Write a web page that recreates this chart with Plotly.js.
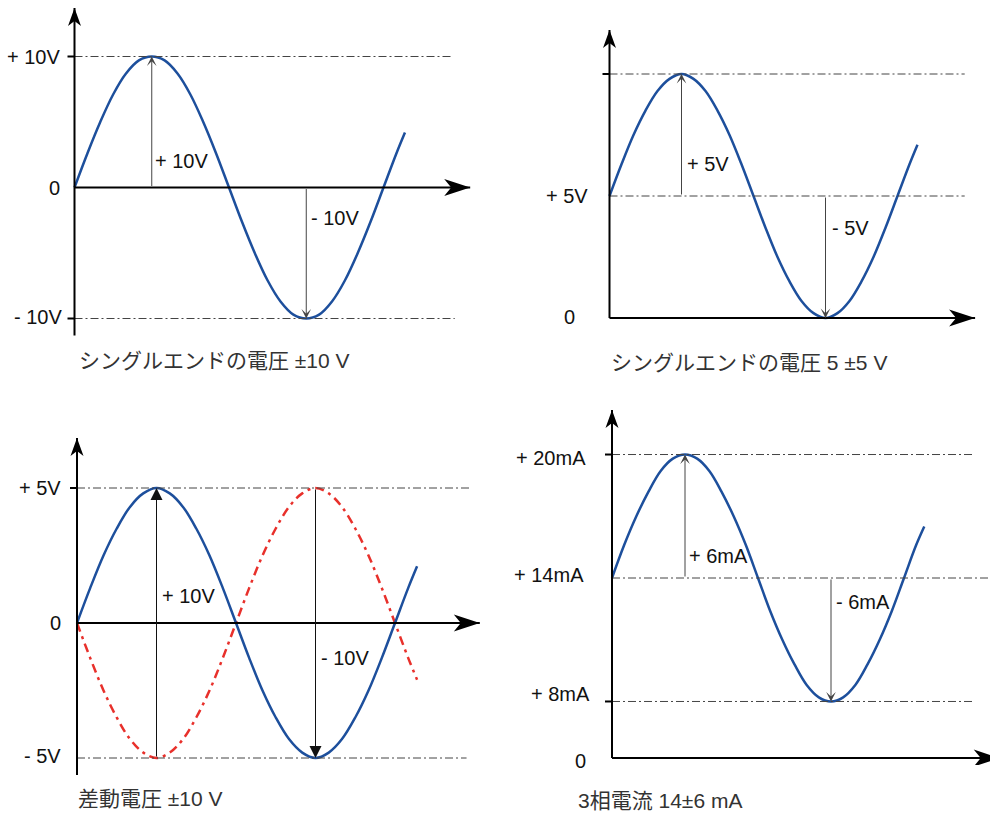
<!DOCTYPE html>
<html>
<head>
<meta charset="utf-8">
<script src="https://cdn.plot.ly/plotly-3.0.1.min.js"></script>
<style>
body { margin: 0; background: #fff; }
#chart { width: 990px; height: 815px; }
</style>
</head>
<body>
<div id="chart"></div>
<script>
// phase in degrees
var phase = [0, 15, 30, 45, 60, 75, 90, 105, 120, 135, 150, 165, 180, 195, 210, 225, 240, 255, 270,
	285, 300, 315, 330, 345, 360, 375, 385];
var singleVolts = [0, 2.6, 5, 7.1, 8.7, 9.7, 10, 9.7, 8.7, 7.1, 5, 2.6, 0, -2.6, -5, -7.1, -8.7, -9.7, -10,
	-9.7, -8.7, -7.1, -5, -2.6, 0, 2.6, 4.2];
var offsetVolts = [5, 6.3, 7.5, 8.5, 9.3, 9.8, 10, 9.8, 9.3, 8.5, 7.5, 6.3, 5, 3.7, 2.5, 1.5, 0.7, 0.2, 0,
	0.2, 0.7, 1.5, 2.5, 3.7, 5, 6.3, 7.1];
var diffPlus = [0, 1.3, 2.5, 3.5, 4.3, 4.8, 5, 4.8, 4.3, 3.5, 2.5, 1.3, 0, -1.3, -2.5, -3.5, -4.3, -4.8, -5,
	-4.8, -4.3, -3.5, -2.5, -1.3, 0, 1.3, 2.1];
var diffMinus = [0, -1.3, -2.5, -3.5, -4.3, -4.8, -5, -4.8, -4.3, -3.5, -2.5, -1.3, 0, 1.3, 2.5, 3.5, 4.3, 4.8, 5,
	4.8, 4.3, 3.5, 2.5, 1.3, 0, -1.3, -2.1];
var loopMa = [14, 15.6, 17, 18.2, 19.2, 19.8, 20, 19.8, 19.2, 18.2, 17, 15.6, 14, 12.4, 11, 9.8, 8.8, 8.2, 8,
	8.2, 8.8, 9.8, 11, 12.4, 14, 15.6, 16.5];

// dash-dot reference levels and their labels
var p1Levels = [10, -10];
var p1LevelText = ['+ 10V', '- 10V'];
var p2Levels = [10, 5];
var p2LevelText = ['', '+ 5V'];
var p3Levels = [5, -5];
var p3LevelText = ['+ 5V', '- 5V'];
var p4Levels = [20, 14, 8];
var p4LevelText = ['+ 20mA', '+ 14mA', '+ 8mA'];

// swing arrows: [from, to] at the peak (90) and the trough (270)
var p1Swing = [[0, 10], [0, -10]];
var p1SwingText = ['+ 10V', '- 10V'];
var p2Swing = [[5, 10], [5, 0]];
var p2SwingText = ['+ 5V', '- 5V'];
var p3Swing = [[-5, 5], [5, -5]];
var p3SwingText = ['+ 10V', '- 10V'];
var p4Swing = [[14, 20], [14, 8]];
var p4SwingText = ['+ 6mA', '- 6mA'];
var swingAt = [90, 270];

var captions = ['シングルエンドの電圧 ±10 V', 'シングルエンドの電圧 5 ±5 V', '差動電圧 ±10 V', '3相電流 14±6 mA'];

var W = 990, H = 815;
var blue = '#1d4f9c', red = '#e8302b', refGray = '#444';
var labelFont = {family: 'Liberation Sans, Arial, sans-serif', size: 20, color: '#111'};
var capFont = {family: 'Liberation Sans, Noto Sans CJK JP, sans-serif', size: 21, color: '#333'};

var data = [], shapes = [], notes = [];
var layout = {
	width: W, height: H,
	margin: {l: 0, r: 0, t: 0, b: 0},
	showlegend: false, hovermode: false,
	paper_bgcolor: '#fff', plot_bgcolor: 'rgba(0,0,0,0)',
	shapes: shapes, annotations: notes
};

// box = [left, right, top, bottom] px, x0/y0 = pixel of phase 0 / value 0, kx/ky = px per unit
function panel(i, box, x0, kx, y0, ky) {
	var n = i === 0 ? '' : String(i + 1);
	layout['xaxis' + n] = {domain: [box[0] / W, box[1] / W], range: [(box[0] - x0) / kx, (box[1] - x0) / kx],
		visible: false, fixedrange: true, anchor: 'y' + n};
	layout['yaxis' + n] = {domain: [1 - box[3] / H, 1 - box[2] / H], range: [(y0 - box[3]) / ky, (y0 - box[2]) / ky],
		visible: false, fixedrange: true, anchor: 'x' + n};
	return {x: 'x' + n, y: 'y' + n};
}

function curve(r, ys, color, dash) {
	data.push({x: phase, y: ys, xaxis: r.x, yaxis: r.y, type: 'scatter', mode: 'lines',
		line: {color: color, width: 2.5, shape: 'spline', dash: dash || 'solid'}});
}

function refLine(r, level, x1, tick) {
	shapes.push({type: 'line', xref: r.x, yref: r.y, x0: 0, x1: x1, y0: level, y1: level,
		line: {color: refGray, width: 1, dash: '8px,3px,2px,3px'}});
	if (tick) shapes.push({type: 'line', xref: r.x, yref: r.y, xsizemode: 'pixel', xanchor: 0, x0: -7, x1: 0,
		y0: level, y1: level, line: {color: '#000', width: 2}});
}

function axes(r, base, xTip, yBot, yTop) {
	var k = {xref: r.x, yref: r.y};
	shapes.push(Object.assign({type: 'line', x0: 0, x1: xTip, y0: base, y1: base, line: {color: '#000', width: 2}}, k));
	shapes.push(Object.assign({type: 'line', x0: 0, x1: 0, y0: yBot, y1: yTop, line: {color: '#000', width: 2}}, k));
	shapes.push(Object.assign({type: 'path', xsizemode: 'pixel', ysizemode: 'pixel', xanchor: xTip, yanchor: base,
		path: 'M0,0L-26,8.5L-19,0L-26,-8.5Z', fillcolor: '#000', line: {width: 0}}, k));
	shapes.push(Object.assign({type: 'path', xsizemode: 'pixel', ysizemode: 'pixel', xanchor: 0, yanchor: yTop,
		path: 'M0,0L-6.5,-18L0,-13L6.5,-18Z', fillcolor: '#000', line: {width: 0}}, k));
}

function label(r, x, y, text, xshift, yshift, anchor) {
	notes.push({xref: r.x, yref: r.y, x: x, y: y, text: text, showarrow: false, xanchor: anchor || 'right',
		yanchor: 'middle', xshift: xshift, yshift: yshift || 0, font: labelFont});
}

function swing(r, at, pair, color, head, size) {
	notes.push({xref: r.x, yref: r.y, axref: r.x, ayref: r.y, x: at, y: pair[1], ax: at, ay: pair[0],
		text: '', showarrow: true, arrowhead: head, arrowsize: size, arrowwidth: 1, arrowcolor: color, standoff: 0});
}

function caption(text, left, midY) {
	notes.push({xref: 'paper', yref: 'paper', x: left / W, y: 1 - midY / H, text: text, showarrow: false,
		xanchor: 'left', yanchor: 'middle', font: capFont});
}

// panel 1: single ended ±10 V
var r1 = panel(0, [40, 480, 0, 345], 74.5, 309 / 360, 187.5, 13.1);
refLine(r1, p1Levels[0], 440, true);
refLine(r1, p1Levels[1], 443, true);
curve(r1, singleVolts, blue);
axes(r1, 0, 461, -11.3, 13.7);
label(r1, 0, p1Levels[0], p1LevelText[0], -13);
label(r1, 0, 0, '0', -13);
label(r1, 0, p1Levels[1], p1LevelText[1], -11, 2);
swing(r1, swingAt[0], p1Swing[0], '#444', 3, 1.6);
swing(r1, swingAt[1], p1Swing[1], '#444', 3, 1.6);
label(r1, swingAt[0], 2, p1SwingText[0], 1, 0, 'left');
label(r1, swingAt[1], -2.3, p1SwingText[1], 3, 0, 'left');
caption(captions[0], 77, 360);

// panel 2: single ended 5 ±5 V
var r2 = panel(1, [560, 985, 20, 330], 609.5, 0.8, 318, 24.4);
refLine(r2, p2Levels[0], 444, true);
refLine(r2, p2Levels[1], 444, false);
curve(r2, offsetVolts, blue);
axes(r2, 0, 457, 0, 11.8);
label(r2, 0, p2Levels[1], p2LevelText[1], -20);
label(r2, 0, 0, '0', -33, 1);
swing(r2, swingAt[0], p2Swing[0], '#444', 3, 1.6);
swing(r2, swingAt[1], p2Swing[1], '#444', 3, 1.6);
label(r2, swingAt[0], 6.3, p2SwingText[0], 3, 0, 'left');
label(r2, swingAt[1], 3.7, p2SwingText[1], 4, 0, 'left');
caption(captions[1], 609, 362);

// panel 3: differential ±10 V
var r3 = panel(2, [40, 485, 430, 785], 77, 318 / 360, 623, 27);
refLine(r3, p3Levels[0], 447, true);
refLine(r3, p3Levels[1], 441, false);
curve(r3, diffMinus, red, '9px,5px,3px,5px');
curve(r3, diffPlus, blue);
axes(r3, 0, 456, -5.63, 6.85);
label(r3, 0, p3Levels[0], p3LevelText[0], -14);
label(r3, 0, 0, '0', -14);
label(r3, 0, p3Levels[1], p3LevelText[1], -14, 2);
swing(r3, swingAt[0], p3Swing[0], '#111', 2, 2.4);
swing(r3, swingAt[1], p3Swing[1], '#111', 2, 2.4);
label(r3, swingAt[0], 1, p3SwingText[0], 3, 0, 'left');
label(r3, swingAt[1], -1.3, p3SwingText[1], 3, 0, 'left');
caption(captions[2], 76, 798);

// panel 4: current loop 14±6 mA (y axis broken below 8 mA)
var r4 = panel(3, [570, 990, 400, 765], 612, 292 / 360, 578 + 14 * 20.58, 20.58);
refLine(r4, p4Levels[0], 444, true);
refLine(r4, p4Levels[1], 478, false);
refLine(r4, p4Levels[2], 444, true);
curve(r4, loopMa, blue);
axes(r4, 5.25, 478, 5.25, 22.16);
label(r4, 0, p4Levels[0], p4LevelText[0], -24, -3);
label(r4, 0, p4Levels[1], p4LevelText[1], -26, 3);
label(r4, 0, p4Levels[2], p4LevelText[2], -20, 7);
label(r4, 0, 5.25, '0', -24, -3);
swing(r4, swingAt[0], p4Swing[0], '#444', 3, 1.6);
swing(r4, swingAt[1], p4Swing[1], '#444', 3, 1.6);
label(r4, swingAt[0], 15.07, p4SwingText[0], 2, 0, 'left');
label(r4, swingAt[1], 12.83, p4SwingText[1], 3, 0, 'left');
caption(captions[3], 576, 800);

Plotly.newPlot('chart', data, layout, {staticPlot: true, displayModeBar: false});
</script>
</body>
</html>
